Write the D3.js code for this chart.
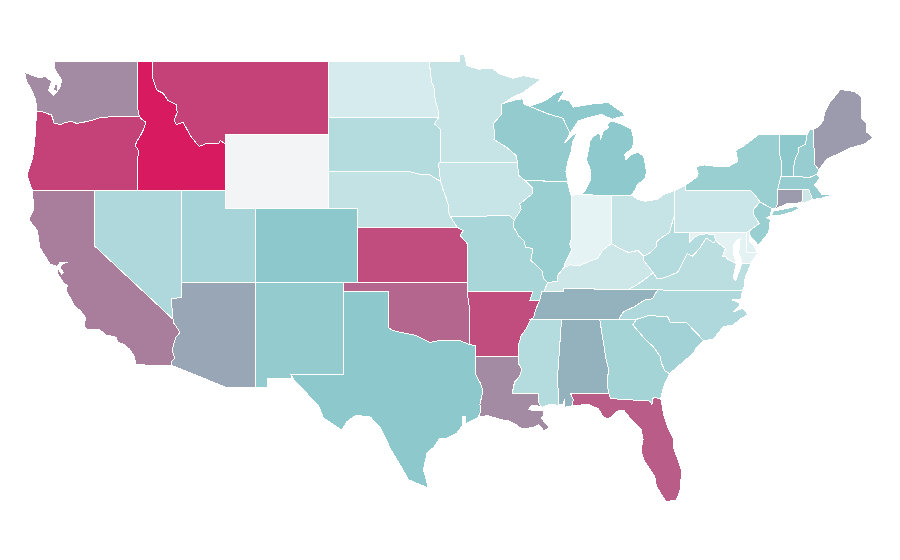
<!DOCTYPE html>
<html><head><meta charset="utf-8">
<script src="https://cdn.jsdelivr.net/npm/d3@7"></script>
<style>html,body{margin:0;background:#fff}svg{display:block}</style></head>
<body><svg id="map" width="900" height="560"></svg>
<script>
// shared borders, [lon,lat]
const rev=a=>a.slice().reverse();
const columbia=[[-123.9,46.27],[-123.5,46.25],[-123.2,46.15],[-122.9,46.08],[-122.8,45.85],[-122.75,45.65],[-122.3,45.55],[-121.9,45.68],[-121.5,45.72],[-121.2,45.62],[-120.9,45.65],[-120.5,45.72],[-120.0,45.82],[-119.6,45.92],[-119.1,45.93],[-118.98,46.0],[-116.92,46.0]];
const snakeOrId=[[-116.92,46.0],[-116.78,45.85],[-116.5,45.7],[-116.55,45.45],[-116.75,45.1],[-116.85,44.95],[-117.05,44.7],[-117.22,44.4],[-117.05,44.25],[-116.95,44.1],[-117.03,43.8],[-117.03,42]];
const idMt=[[-116.05,49],[-116.05,48.15],[-115.75,47.43],[-115.3,47.25],[-114.97,46.85],[-114.4,46.63],[-114.35,46.2],[-114.55,45.8],[-114.4,45.55],[-113.95,45.68],[-113.75,45.4],[-113.45,44.95],[-113.1,44.6],[-112.85,44.37],[-112.3,44.55],[-111.5,44.55],[-111.4,44.7],[-111.05,44.47]];
const colorado=[[-114.63,35.0],[-114.58,34.8],[-114.15,34.3],[-114.45,34.0],[-114.6,33.6],[-114.7,33.3],[-114.5,32.9],[-114.72,32.72]];
const redRiverN=[[-97.23,49],[-97.13,48.5],[-97.05,47.9],[-96.85,47.5],[-96.8,46.9],[-96.6,46.35],[-96.56,45.94]];
const mnSd=[[-96.56,45.94],[-96.85,45.6],[-96.45,45.3],[-96.45,43.5]];
const bigSioux=[[-96.45,43.5],[-96.6,43.45],[-96.5,43.05],[-96.45,42.5]];
const sdNe=[[-96.45,42.5],[-96.7,42.6],[-97.2,42.85],[-97.85,42.87],[-98.5,43.0],[-104.05,43.0]];
const missouriIa=[[-96.45,42.5],[-96.25,42.0],[-96.1,41.7],[-95.9,41.2],[-95.85,40.7],[-95.77,40.58]];
const neMo=[[-95.77,40.58],[-95.31,40.0]];
const ksMo=[[-95.31,40.0],[-94.9,39.8],[-95.1,39.55],[-94.62,39.1],[-94.62,37]];
const redRiverS=[[-94.48,33.64],[-95.2,33.87],[-95.8,33.85],[-96.6,33.83],[-97.15,33.75],[-97.7,33.95],[-98.1,34.13],[-99.2,34.3],[-99.7,34.4],[-100,34.56]];
const sabine=[[-94.04,32],[-93.7,31.5],[-93.55,31.1],[-93.75,30.4],[-93.7,30.05],[-93.85,29.7]];
const missLa=[[-91.15,33],[-91.1,32.55],[-90.9,32.3],[-91.05,31.9],[-91.4,31.6],[-91.55,31.0],[-89.75,31.0],[-89.8,30.55],[-89.55,30.2]];
const missAr=[[-89.7,36.0],[-89.95,35.55],[-90.1,35.1],[-90.3,35.0],[-90.6,34.5],[-90.95,34.1],[-91.1,33.7],[-91.15,33]];
const moIl=[[-91.42,40.38],[-91.5,40.05],[-91.1,39.5],[-90.75,39.25],[-90.65,38.9],[-90.2,38.85],[-90.2,38.6],[-90.3,38.2],[-89.95,37.95],[-89.5,37.6],[-89.45,37.25],[-89.15,36.98]];
const iaIl=[[-90.65,42.5],[-90.15,42.1],[-90.2,41.8],[-91.05,41.25],[-90.95,40.95],[-91.42,40.38]];
const iaWi=[[-91.22,43.5],[-91.1,42.8],[-90.65,42.5]];
const mnWi=[[-92.15,46.7],[-92.3,46.65],[-92.3,46.1],[-92.85,45.6],[-92.75,45.1],[-92.8,44.75],[-91.9,44.3],[-91.25,43.85],[-91.22,43.5]];
const wiMi=[[-90.4,46.55],[-89.1,46.13],[-88.1,45.9],[-87.8,45.35],[-87.6,45.1]];
const ilIn=[[-87.53,41.7],[-87.53,39.35],[-87.65,39.1],[-87.5,38.75],[-87.95,38.1],[-88.05,37.8]];
const ilKy=[[-88.05,37.8],[-88.45,37.4],[-88.5,37.07],[-89.15,36.98]];
const inKy=[[-84.82,39.1],[-85.4,38.75],[-85.75,38.3],[-86.3,38.15],[-87.0,37.9],[-87.6,37.95],[-88.05,37.8]];
const ohioWv=[[-80.52,40.64],[-80.65,40.3],[-80.85,39.7],[-81.45,39.4],[-81.75,39.2],[-81.75,38.95],[-82.1,38.65],[-82.6,38.42]];
const ohioKy=[[-82.6,38.42],[-83.0,38.73],[-83.65,38.62],[-84.25,38.85],[-84.82,39.1]];
const kyWv=[[-81.97,37.54],[-82.6,38.17],[-82.6,38.42]];
const kyVa=[[-83.68,36.6],[-83.1,36.85],[-82.3,37.3],[-81.97,37.54]];
const wvVa=[[-81.97,37.54],[-81.7,37.2],[-81.2,37.25],[-80.3,37.55],[-79.95,38.1],[-79.65,38.55],[-79.3,38.42],[-78.85,38.8],[-78.35,39.4],[-77.83,39.13],[-77.72,39.32]];
const wvMd=[[-79.48,39.2],[-79.1,39.47],[-78.75,39.6],[-78.35,39.63],[-77.85,39.6],[-77.72,39.32]];
const vaMd=[[-77.72,39.32],[-77.5,39.1],[-77.05,38.85],[-77.25,38.4],[-77.05,38.4],[-76.9,38.25],[-76.3,38.0]];
const tnKy=[[-89.4,36.5],[-88.05,36.5],[-88.05,36.68],[-83.68,36.6]];
const tnNc=[[-81.68,36.59],[-82.0,36.12],[-82.6,36.03],[-83.2,35.7],[-84.0,35.4],[-84.32,34.99]];
const gaSc=[[-83.1,35.0],[-83.35,34.7],[-82.55,33.95],[-81.95,33.5],[-81.5,33.0],[-81.4,32.6],[-81.15,32.2],[-80.85,32.05]];
const ncSc=[[-83.1,35.0],[-82.3,35.2],[-81.05,35.15],[-80.95,35.1],[-80.8,34.82],[-79.67,34.8],[-78.55,33.86]];
const alGa=[[-85.6,34.98],[-85.18,32.87],[-85.0,32.3],[-85.1,31.55],[-85.0,31.0]];
const flGa=[[-85.0,31.0],[-84.86,30.7],[-82.2,30.57],[-82.05,30.37],[-81.97,30.75],[-81.45,30.72]];
const alMs=[[-88.2,35],[-88.47,31.9],[-88.4,30.35]];
const paNy=[[-79.76,42.27],[-79.76,42],[-75.35,42],[-75.05,41.75],[-74.7,41.36]];
const paNj=[[-74.7,41.36],[-75.1,41],[-75.15,40.7],[-74.75,40.2],[-75.4,39.8]];
const vtNh=[[-71.5,45.01],[-71.6,44.5],[-72.05,44.3],[-72.05,44.1],[-72.3,43.7],[-72.45,43.15],[-72.45,42.73]];
const nyVt=[[-73.35,45.01],[-73.4,44],[-73.25,43.6],[-73.27,42.75]];
const nhMe=[[-71.08,45.3],[-70.98,43.4],[-70.7,43.08]];

const stateNames=["AL","AZ","AR","CA","CO","CT","DE","FL","GA","ID","IL","IN","IA","KS","KY","LA","ME","MD","MA","MI","MN","MS","MO","MT","NE","NV","NH","NJ","NM","NY","NC","ND","OH","OK","OR","PA","RI","SC","SD","TN","TX","UT","VT","VA","WA","WV","WI","WY"];
const stateValues=[55,57.5,85,70,50,60,3,80,36,100,42,0,17,85,14,65.5,60,1,44,49,18,28,34,88,19.5,31,44,42,46,42,31,9,18,77,88,15,14,38,28,55,50,35.5,50,24,65.5,28,46,null];
const stateRings={
AL:[[...alMs.slice(0,1),...alGa,[-87.6,31.0],[-87.4,30.65],[-87.5,30.3],[-88.0,30.23],[-88.0,30.65],[-88.1,30.4],[-88.4,30.35],[-88.47,31.9]]],
AZ:[[[-114.04,37],[-109.05,37],[-109.05,31.33],[-111.07,31.33],[-114.72,32.5],...rev(colorado),[-114.75,36.1],[-114.04,36.2]]],
AR:[[[-94.62,36.5],[-90.15,36.5],[-90.37,36],...missAr,[-94.04,33],[-94.04,33.55],[-94.48,33.64],[-94.43,35.4]]],
CA:[[[-124.2,42],[-120,42],[-120,39],...colorado,[-114.72,32.5],[-117.12,32.53],[-117.25,32.85],[-117.3,33.05],[-117.6,33.4],[-118.0,33.65],[-118.4,33.75],[-118.5,34.03],[-119.2,34.15],[-119.6,34.42],[-120.45,34.45],[-120.65,34.6],[-120.6,35.1],[-120.9,35.45],[-121.3,35.7],[-121.9,36.55],[-121.8,36.85],[-122.05,36.95],[-122.5,37.5],[-122.5,37.78],[-122.2,37.45],[-122.1,37.55],[-122.35,37.85],[-122.0,38.05],[-121.75,38.07],[-122.3,38.1],[-122.5,37.85],[-123.0,38.0],[-123.7,38.9],[-123.85,39.8],[-124.35,40.3],[-124.4,40.45],[-124.1,41.0]]],
CO:[[[-109.05,41],[-102.05,41],[-102.05,37],[-109.05,37]]],
CT:[[[-73.5,42.05],[-71.8,42.02],[-71.85,41.32],[-72.9,41.25],[-73.65,41.0],[-73.5,41.3]]],
DE:[[[-75.6,39.73],[-75.4,39.8],[-75.4,39.2],[-75.1,38.95],[-74.85,38.6],[-75.6,38.6]]],
FL:[[[-87.6,31],...flGa,[-81.25,29.8],[-80.9,29.0],[-80.55,28.45],[-80.6,28.1],[-80.05,26.85],[-80.1,25.8],[-80.4,25.2],[-81.1,25.12],[-81.75,25.95],[-81.85,26.45],[-82.2,26.9],[-82.55,27.3],[-82.8,27.85],[-82.65,28.5],[-82.8,29.05],[-83.4,29.5],[-83.95,30.05],[-84.35,30.05],[-85.0,29.6],[-85.35,29.7],[-85.7,30.15],[-86.4,30.4],[-87.5,30.3],[-87.4,30.65]]],
GA:[[[-85.6,34.98],[-84.32,34.99],...gaSc,[-81.2,31.5],[-81.45,30.72],...rev(flGa).slice(1),...rev(alGa).slice(1)]],
ID:[[[-117.04,49],...idMt,[-111.05,42],...rev(snakeOrId),[-117.04,46.42]]],
IL:[[[-87.8,42.49],[-87.6,41.85],...ilIn,...ilKy,...rev(moIl),...rev(iaIl)]],
IN:[[[-87.53,41.7],[-87.2,41.76],[-86.8,41.76],[-84.8,41.7],...inKy,...rev(ilIn)]],
IA:[[[-96.45,43.5],...iaWi,...iaIl,[-91.73,40.61],...rev(missouriIa),...rev(bigSioux)]],
KS:[[[-102.05,40],...ksMo,[-102.05,37]]],
KY:[[...tnKy,...kyVa,...kyWv,...ohioKy,...inKy,...ilKy]],
LA:[[[-94.04,33],...missLa,[-89.85,30.32],[-90.3,30.3],[-90.45,30.1],[-89.85,30.05],[-89.4,30.05],[-89.4,29.8],[-89.6,29.65],[-89.2,29.3],[-89.0,29.15],[-89.4,28.95],[-89.75,29.3],[-90.1,29.15],[-90.9,29.05],[-91.3,29.3],[-91.8,29.5],[-92.3,29.55],[-93.2,29.78],...rev(sabine)]],
ME:[[...nhMe.slice(0,1),[-70.8,45.4],[-70.4,45.75],[-70.3,46.2],[-70.0,46.7],[-69.23,47.46],[-69.0,47.43],[-68.3,47.35],[-67.8,47.07],[-67.78,45.9],[-67.45,45.6],[-67.45,45.15],[-67.0,44.85],[-67.6,44.5],[-68.5,44.3],[-69.0,44.1],[-69.7,43.85],[-70.2,43.65],[-70.7,43.08],[-70.98,43.4]]],
MD:[[[-79.48,39.72],[-75.6,39.73],[-75.6,38.6],[-74.85,38.6],[-75.27,38.1],[-75.3,38.02],[-75.95,38.0],[-76.0,38.3],[-76.15,38.55],[-76.1,39.0],[-76.05,39.35],[-76.25,39.3],[-76.5,39.05],[-76.5,38.5],[-76.3,38.0],...rev(vaMd).slice(1),...rev(wvMd).slice(1)]],
MA:[[[-73.27,42.75],[-71.3,42.7],[-70.82,42.87],[-70.6,42.65],[-71.0,42.3],[-70.65,41.95],[-70.5,41.78],[-70.05,41.78],[-70.2,42.07],[-69.95,41.7],[-70.6,41.55],[-71.12,41.5],[-71.38,42.02],[-71.8,42.02],[-73.5,42.05]]],
MI:[[...wiMi,[-87.05,45.75],[-86.5,45.9],[-85.5,46.1],[-84.75,45.85],[-84.2,45.97],[-83.85,46.0],[-84.1,46.25],[-84.5,46.45],[-85.0,46.75],[-86.1,46.67],[-87.4,46.5],[-87.7,46.85],[-88.2,46.95],[-88.45,46.8],[-87.95,47.45],[-88.6,47.25],[-89.3,46.85]],
[[-84.75,45.75],[-84.2,45.6],[-83.45,45.3],[-83.3,44.85],[-83.35,44.3],[-83.9,43.95],[-83.85,43.65],[-83.4,43.95],[-82.95,44.05],[-82.6,43.8],[-82.42,43.0],[-82.5,42.65],[-83.1,42.25],[-83.15,42.05],[-83.45,41.73],[-84.8,41.7],[-86.8,41.76],[-86.5,42.1],[-86.2,42.6],[-86.25,43.1],[-86.5,43.65],[-86.25,44.7],[-86.05,44.9],[-85.6,45.15],[-85.55,44.75],[-85.35,45.2],[-85.0,45.4],[-85.1,45.6]],
[[-89.15,47.95],[-88.5,48.12],[-88.75,48.0]]],
MN:[[...redRiverN.slice(0,1),[-95.15,49],[-95.15,49.38],[-94.8,49.33],[-94.65,48.75],[-93.8,48.55],[-93.4,48.6],[-92.95,48.62],[-92.4,48.3],[-91.5,48.07],[-90.8,48.2],[-90.1,48.1],[-89.6,48.0],[-90.8,47.3],[-91.5,47.05],[-92.15,46.7],...mnWi.slice(1),...rev(mnSd),...rev(redRiverN).slice(1)]],
MS:[[[-90.3,35],...alMs,[-89.1,30.37],...rev(missLa),...rev(missAr).slice(1,5)]],
MO:[[[-95.77,40.58],[-91.73,40.61],...moIl,[-89.4,36.5],[-89.55,36.5],[-89.7,36],[-90.37,36],[-90.15,36.5],[-94.62,36.5],...rev(ksMo),...rev(neMo).slice(1)]],
MT:[[...idMt.slice(0,1),[-104.05,49],[-104.05,45],[-111.05,45],...rev(idMt).slice(0,-1)]],
NE:[[[-104.05,43],...rev(sdNe),...missouriIa,...ksMo.slice(0,1),[-102.05,40],[-102.05,41],[-104.05,41]]],
NV:[[[-120,42],[-114.04,42],[-114.04,36.2],[-114.75,36.1],[-114.63,35.0],[-120,39]]],
NH:[[...vtNh.slice(0,1),[-71.3,45.3],...nhMe,[-70.82,42.87],[-71.3,42.7],...rev(vtNh).slice(0,-1)]],
NJ:[[[-74.7,41.36],[-73.9,41],[-74.0,40.6],[-74.25,40.5],[-74.0,40.4],[-74.1,39.75],[-74.4,39.4],[-74.85,39.0],[-75.0,39.2],[-75.4,39.55],...rev(paNj)]],
NM:[[[-109.05,37],[-103.0,37],[-103.05,32],[-106.62,32],[-106.53,31.78],[-108.2,31.78],[-108.2,31.33],[-109.05,31.33]]],
NY:[[[-79.76,42.27],[-79.0,42.7],[-78.9,42.9],[-79.05,43.27],[-78.5,43.37],[-77.5,43.27],[-76.8,43.3],[-76.2,43.55],[-76.3,43.9],[-76.35,44.15],[-75.8,44.4],[-74.8,45.0],...nyVt,[-73.5,42.05],[-73.5,41.3],[-73.65,41.0],[-73.9,41],...rev(paNy)],
[[-74.0,40.6],[-73.75,40.87],[-73.1,40.97],[-72.4,41.1],[-71.9,41.07],[-72.5,40.82],[-73.5,40.6]]],
NC:[[...rev(tnNc),[-75.9,36.55],[-76.0,36.1],[-76.6,36.05],[-76.0,35.85],[-76.5,35.4],[-75.9,35.6],[-75.5,35.25],[-76.0,35.05],[-76.5,34.7],[-77.2,34.6],[-77.9,33.9],...rev(ncSc)]],
ND:[[[-104.05,49],...redRiverN,[-104.05,45.94]]],
OH:[[[-84.8,41.7],[-83.45,41.73],[-83.0,41.5],[-82.5,41.4],[-81.7,41.5],[-81.2,41.78],[-80.52,41.98],...ohioWv,...ohioKy]],
OK:[[[-103,37],[-94.62,37],[-94.62,36.5],[-94.43,35.4],...redRiverS,[-100,36.5],[-103,36.5]]],
OR:[[...columbia,...snakeOrId,[-124.2,42],[-124.4,42.4],[-124.55,42.84],[-124.4,43.2],[-124.2,43.7],[-124.1,44.2],[-124.05,44.7],[-123.97,45.2],[-123.95,45.8]]],
PA:[[[-80.52,41.98],[-80.08,42.15],...paNy,...paNj,[-75.6,39.73],[-80.52,39.72]]],
RI:[[[-71.8,42.02],[-71.38,42.02],[-71.12,41.5],[-71.5,41.37],[-71.85,41.32]]],
SC:[[...ncSc,[-79.0,33.5],[-79.2,33.2],[-79.9,32.7],[-80.5,32.3],...rev(gaSc)]],
SD:[[[-104.05,45.94],...mnSd,...bigSioux,...sdNe]],
TN:[[[-89.55,36.5],...tnKy,...tnNc,[-85.6,34.98],[-88.2,35],[-90.3,35],[-90.1,35.1],[-89.95,35.55],[-89.7,36]]],
TX:[[[-106.62,32],[-103.05,32],[-103,36.5],[-100,36.5],...rev(redRiverS),[-94.04,33.55],...sabine,[-94.7,29.35],[-94.75,29.75],[-94.95,29.7],[-94.9,29.3],[-95.3,28.85],[-96.0,28.55],[-96.5,28.55],[-96.85,28.1],[-97.35,27.75],[-97.6,26.85],[-97.4,26.3],[-97.27,25.86],[-98.6,26.3],[-99.4,27.4],[-99.85,28.0],[-100.5,29.1],[-101.2,29.7],[-102.2,29.8],[-102.8,29.45],[-103.15,29.0],[-104.4,29.65],[-104.75,30.35],[-106.3,31.6]]],
UT:[[[-114.04,42],[-111.05,42],[-111.05,41],[-109.05,41],[-109.05,37],[-114.04,37]]],
VT:[[...nyVt,[-72.45,42.73],...rev(vtNh).slice(1)]],
VA:[[...kyVa,...wvVa.slice(1),...vaMd.slice(1),[-76.45,37.6],[-76.5,37.25],[-76.35,37.1],[-76.1,37.65],[-75.95,38.0],[-75.3,38.02],[-75.7,37.3],[-75.8,36.7],[-75.9,36.55],[-81.68,36.59]]],
WA:[[[-117.04,49],[-122.72,49],[-122.65,48.5],[-122.4,48.2],[-122.2,47.97],[-122.35,47.5],[-122.77,47.15],[-123.1,47.4],[-122.9,47.9],[-123.3,48.15],[-123.8,48.1],[-124.72,48.38],[-124.6,47.9],[-124.25,47.43],[-124.02,47.0],[-123.95,46.7],...columbia,[-117.04,46.42]],
[[-122.75,47.4],[-122.5,47.35],[-122.45,47.7],[-122.7,47.7]]],
WV:[[[-80.52,39.72],[-79.48,39.72],...wvMd,...rev(wvVa).slice(1),...kyWv.slice(1),...rev(ohioWv).slice(1)]],
WI:[[...mnWi.slice(0,1),[-91.3,46.9],[-90.85,46.95],[-90.75,46.65],...wiMi,[-88.0,44.55],[-87.05,45.25],[-87.45,44.6],[-87.55,44.1],[-87.75,43.6],[-87.9,43.0],[-87.8,42.49],...rev(iaWi),...rev(mnWi).slice(1)]],
WY:[[[-111.05,45],[-104.05,45],[-104.05,41],[-111.05,41]]]
};

const colorDomain=[0,50,60,70,100];
const colorStops=["#e6f3f4","#8cc8cc","#9c9bae","#a97d9c","#d81b60"];
const noDataColor="#f3f4f6";

const x=d3.scaleLinear().domain([-124.72,-67]).range([24.7,873.2]);
const y=d3.scaleLinear().domain([49,25]).range([61,503.8]);
const color=d3.scaleLinear().domain(colorDomain).range(colorStops).interpolate(d3.interpolateRgb);
const path=d3.geoPath(d3.geoTransform({point(lon,lat){this.stream.point(x(lon),y(lat));}}));

const features=stateNames.map((name,i)=>({type:"Feature",properties:{name,value:stateValues[i]},
  geometry:{type:"MultiPolygon",coordinates:stateRings[name].map(r=>[[...r,r[0]]])}}));

d3.select("#map").selectAll("path").data(features).join("path")
  .attr("d",path)
  .attr("fill",d=>d.properties.value==null?noDataColor:color(d.properties.value))
  .attr("stroke","#fff").attr("stroke-width",1)
  .attr("shape-rendering","crispEdges");
</script></body></html>
